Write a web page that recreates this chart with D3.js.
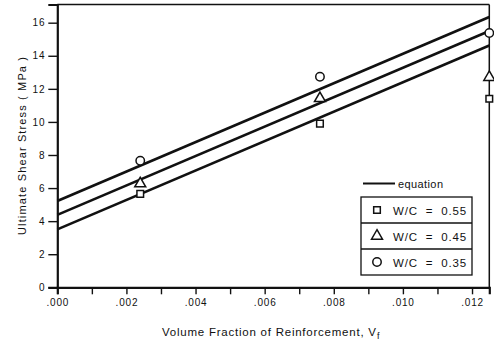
<!DOCTYPE html>
<html>
<head>
<meta charset="utf-8">
<script src="https://cdn.jsdelivr.net/npm/d3@7"></script>
<style>
  body { margin: 0; background: #fff; }
  text { font-family: "Liberation Sans", Arial, sans-serif; fill: #111; }
</style>
</head>
<body>
<svg id="chart" width="494" height="343"></svg>
<script>
// volume fraction where the tests were done
const vf = [0.0024, 0.0076, 0.0125];
// measured ultimate shear stress (MPa)
const wc055 = [5.65, 9.9, 11.4];
const wc045 = [6.27, 11.42, 12.7];
const wc035 = [7.65, 12.73, 15.38];
// equation lines, value at vf = 0 and vf = .0125
const eqX = [0, 0.0125];
const eqStart = [3.5, 4.38, 5.22];
const eqEnd = [14.62, 15.5, 16.34];
const yTicks = [0, 2, 4, 6, 8, 10, 12, 14, 16];
const xTicks = [0, 0.001, 0.002, 0.003, 0.004, 0.005, 0.006, 0.007, 0.008, 0.009, 0.010, 0.011, 0.012];
const legendLabels = ['W/C  =  0.55', 'W/C  =  0.45', 'W/C  =  0.35'];

const svg = d3.select('#chart');
const plotL = 57.3, plotR = 489.3, plotT = 4.5, plotB = 287.3;

const x = d3.scaleLinear().domain([0, 0.0125]).range([plotL, plotR]);
const y = d3.scaleLinear().domain([0, 17.1]).range([plotB, plotT]);

// frame: top & right thin, left & bottom heavier
svg.append('line').attr('x1', plotL).attr('x2', plotR).attr('y1', plotT).attr('y2', plotT)
  .attr('stroke', '#111').attr('stroke-width', 1.5);
svg.append('line').attr('x1', plotR).attr('x2', plotR).attr('y1', plotT).attr('y2', plotB)
  .attr('stroke', '#111').attr('stroke-width', 1.5);

const yAxis = svg.append('g')
  .attr('transform', `translate(${plotL},0)`)
  .call(d3.axisLeft(y).tickValues(yTicks).tickSize(9).tickPadding(3).tickFormat(d3.format('d')));
const xAxis = svg.append('g')
  .attr('transform', `translate(0,${plotB})`)
  .call(d3.axisBottom(x).tickValues(xTicks).tickSize(7).tickPadding(5)
    .tickFormat(d => (Math.round(d * 1000) % 2 === 0) ? d3.format('.3f')(d).replace(/^0/, '') : ''));

[yAxis, xAxis].forEach(a => {
  a.select('.domain').attr('stroke', '#111').attr('stroke-width', 2.2);
  a.selectAll('.tick line').attr('stroke', '#111').attr('stroke-width', 1.4);
  a.selectAll('.tick text').attr('font-size', 10).attr('letter-spacing', 0.8)
    .attr('fill', '#111').attr('font-family', '"Liberation Sans", Arial, sans-serif');
});

// equation lines
const lineGen = d3.line().x(d => x(d[0])).y(d => y(d[1]));
eqStart.forEach((s, i) => {
  svg.append('path')
    .attr('d', lineGen([[eqX[0], s], [eqX[1], eqEnd[i]]]))
    .attr('fill', 'none').attr('stroke', '#111').attr('stroke-width', 2.6);
});

// markers
const sq = d3.symbol().type(d3.symbolSquare).size(44);
const tri = d3.symbol().type(d3.symbolTriangle).size(52);
const cir = d3.symbol().type(d3.symbolCircle).size(56);
const series = [
  { vals: wc055, sym: sq },
  { vals: wc045, sym: tri },
  { vals: wc035, sym: cir }
];
series.forEach(s => {
  svg.append('g').selectAll('path').data(s.vals).enter().append('path')
    .attr('d', s.sym)
    .attr('transform', (d, i) => `translate(${x(vf[i])},${y(d)})`)
    .attr('fill', '#fff').attr('stroke', '#111').attr('stroke-width', 1.5);
});

// legend
const lg = svg.append('g');
lg.append('line').attr('x1', 363).attr('x2', 395).attr('y1', 183.5).attr('y2', 183.5)
  .attr('stroke', '#111').attr('stroke-width', 2);
lg.append('text').attr('x', 398).attr('y', 187.5).attr('font-size', 11)
  .attr('letter-spacing', 0.4).text('equation');

const rowTop = 197, rowH = 26, boxL = 361, boxR = 472;
lg.append('rect').attr('x', boxL).attr('y', rowTop).attr('width', boxR - boxL).attr('height', rowH * 3)
  .attr('fill', 'none').attr('stroke', '#111').attr('stroke-width', 1.3);
[1, 2].forEach(k => {
  lg.append('line').attr('x1', boxL).attr('x2', boxR)
    .attr('y1', rowTop + rowH * k).attr('y2', rowTop + rowH * k)
    .attr('stroke', '#111').attr('stroke-width', 1.3);
});
series.forEach((s, i) => {
  const cy = rowTop + rowH * i + rowH / 2;
  lg.append('path').attr('d', s.sym).attr('transform', `translate(377,${cy})`)
    .attr('fill', '#fff').attr('stroke', '#111').attr('stroke-width', 1.5);
  lg.append('text').attr('x', 393).attr('y', cy + 4.5).attr('font-size', 11.5)
    .attr('letter-spacing', 0.8).style('white-space', 'pre').text(legendLabels[i]);
});

// axis titles
svg.append('text').attr('x', 162).attr('y', 336).attr('font-size', 11.5)
  .attr('textLength', 214).attr('lengthAdjust', 'spacing')
  .text('Volume  Fraction  of  Reinforcement,  V');
svg.append('text').attr('x', 377).attr('y', 339).attr('font-size', 9).text('f');

svg.append('text')
  .attr('transform', 'translate(26,146) rotate(-90)')
  .attr('text-anchor', 'middle').attr('font-size', 11)
  .attr('textLength', 178).attr('lengthAdjust', 'spacing')
  .text('Ultimate  Shear  Stress  ( MPa )');
</script>
</body>
</html>
